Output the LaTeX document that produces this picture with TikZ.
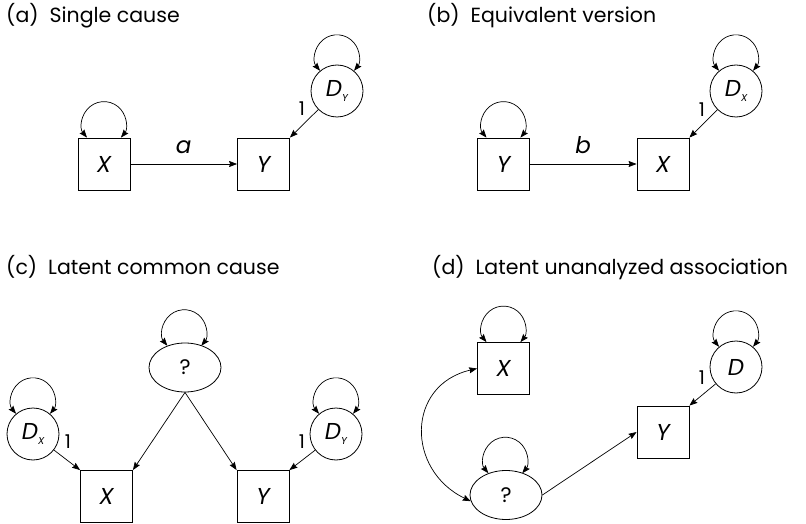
\documentclass[tikz,border=0pt]{standalone}
\usepackage{fontspec}
\setmainfont{Poppins}
\usetikzlibrary{arrows.meta,shapes.geometric}
\newcommand\sub[1]{\raisebox{-0.45ex}{\fontsize{10}{10}\selectfont #1}}
\newcommand\selfloop[1]{\draw[dbl] (#1) arc[start angle=219.5,end angle=-39.5,radius=22pt];}
\begin{document}
\begin{tikzpicture}[x=1pt,y=1pt,
  tip/.tip={Stealth[length=8pt,width=6pt,inset=1pt]},
  obs/.style={draw, line width=0.8pt, minimum size=52pt, inner sep=0pt,
    font=\fontsize{23}{26}\selectfont\itshape},
  err/.style={draw, circle, line width=0.8pt, minimum size=52pt, inner sep=0pt,
    font=\fontsize{23}{26}\selectfont\itshape},
  lat/.style={draw, ellipse, line width=0.8pt, minimum width=72pt, minimum height=49pt,
    inner sep=0pt, font=\fontsize{21}{24}\selectfont},
  path/.style={line width=0.7pt, -tip},
  dbl/.style={line width=0.7pt, tip-tip},
  ttl/.style={anchor=base west, inner sep=0pt, font=\fontsize{20.5}{24}\selectfont},
  one/.style={inner sep=0pt, font=\fontsize{19}{22}\selectfont},
  coef/.style={inner sep=0pt, font=\fontsize{23}{26}\selectfont\itshape}
]
\useasboundingbox (0,0) rectangle (806,523);

% (a) single cause
\node[ttl] (ta) at (6,500) {(a)\ \ Single cause};
\node[obs] (Xa) at (104,359) {X};
\node[obs] (Ya) at (263.5,359) {Y};
\node[err] (DYa) at (337,432) {D\sub{Y}};
\selfloop{[xshift=-17pt]Xa.north}
\selfloop{DYa.130}
\draw[path] (Xa) -- node[coef, midway, yshift=17pt] {a} (Ya);
\draw[path] (DYa) -- (Ya.north east);
\node[one] (oa) at (302,414) {1};

% (b) equivalent version
\node[ttl] (tb) at (427,500) {(b)\ \ Equivalent version};
\node[obs] (Yb) at (503.5,359) {Y};
\node[obs] (Xb) at (663,359) {X};
\node[err] (DXb) at (736,432) {D\sub{X}};
\selfloop{[xshift=-17pt]Yb.north}
\selfloop{DXb.130}
\draw[path] (Yb) -- node[coef, midway, yshift=19pt] {b} (Xb);
\draw[path] (DXb) -- (Xb.north east);
\node[one] (ob) at (702,413) {1};

% (c) latent common cause
\node[ttl] (tc) at (6,248) {(c)\ \ Latent common cause};
\node[err] (DXc) at (33,89) {D\sub{X}};
\node[err] (DYc) at (336,89) {D\sub{Y}};
\node[lat] (qc) at (185,155.5) {?};
\node[obs] (Xc) at (106.5,26.5) {X};
\node[obs] (Yc) at (263,26.5) {Y};
\selfloop{DXc.130}
\selfloop{DYc.130}
\selfloop{qc.129}
\draw[path] (qc.south) -- (Xc.north east);
\draw[path] (qc.south) -- (Yc.north west);
\draw[path] (DXc) -- (Xc.north west);
\draw[path] (DYc) -- (Yc.north east);
\node[one] (oc1) at (68,81) {1};
\node[one] (oc2) at (302,81) {1};

% (d) latent unanalyzed association
\node[ttl] (td) at (432,248) {(d)\ \ Latent unanalyzed association};
\node[obs] (Xd) at (503.5,154.5) {X};
\node[err] (Dd) at (736,156) {D};
\node[obs] (Yd) at (663,91) {Y};
\node[lat] (qd) at (506,28) {?};
\selfloop{[xshift=-17pt]Xd.north}
\selfloop{Dd.130}
\selfloop{qd.129}
\draw[dbl] (Xd.west) .. controls (406,138) and (406,53) .. (qd.190);
\draw[path] (qd.east) -- (Yd.west);
\draw[path] (Dd) -- (Yd.north east);
\node[one] (od) at (702,145) {1};
\end{tikzpicture}
\end{document}
